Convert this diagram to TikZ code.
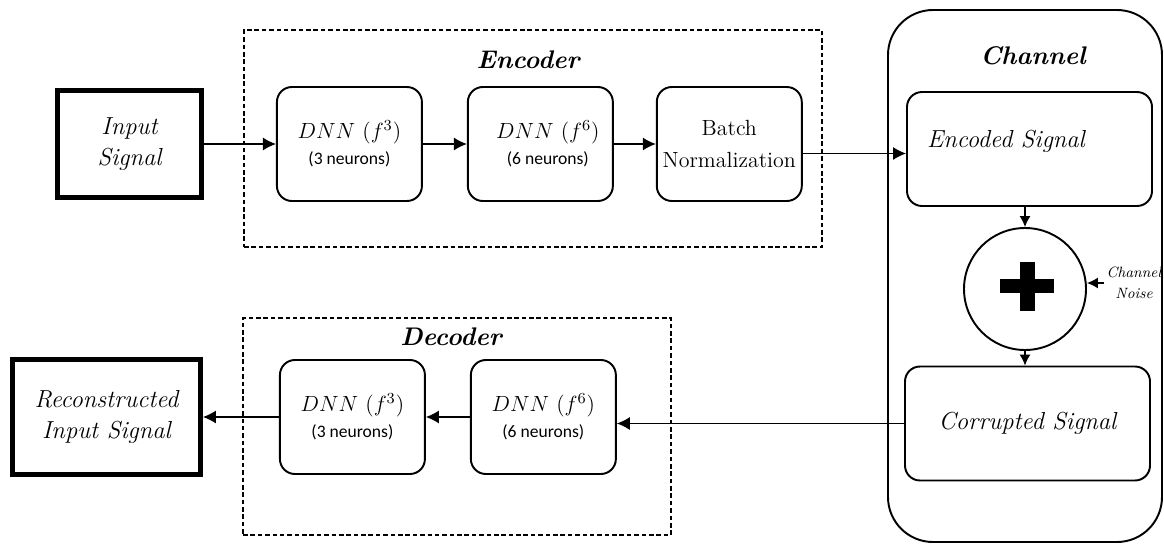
\RequirePackage{fix-cm}
\documentclass[tikz,border=0pt]{standalone}
\usepackage{fontspec}
\newfontfamily\neuronfont{Carlito}
\usetikzlibrary{arrows.meta,positioning}

\newcommand\sigfont{\fontsize{14}{17.5}\selectfont\itshape}
\newcommand\partfont{\fontsize{14.5}{17}\selectfont\bfseries\itshape}
\newcommand\dnnfont{\fontsize{12.5}{15}\selectfont}
\newcommand\neurfont{\fontsize{10}{12}\selectfont\neuronfont}
\newcommand\bnfont{\fontsize{12.5}{18}\selectfont\rmfamily\upshape}
\newcommand\noisefont{\fontsize{8.5}{12}\selectfont\itshape}

\begin{document}
\begin{tikzpicture}[
        node distance=0.88cm,
        iobox/.style={draw, line width=2.8pt, minimum width=2.88cm, minimum height=2.14cm, align=center, font=\sigfont},
        dnnbox/.style={draw, line width=1.1pt, rounded corners=0.3cm, minimum width=2.9cm, minimum height=2.28cm, align=center, font=\dnnfont},
        sigbox/.style={draw, line width=1.1pt, rounded corners=0.3cm, minimum width=4.9cm, minimum height=2.28cm, align=center, font=\sigfont},
        frame/.style={draw, line width=1pt, dash pattern=on 2.6pt off 1.6pt, inner sep=0pt},
        arrow/.style={-{Latex[length=2.6mm,width=2.6mm]}, line width=0.7pt},
        smallarrow/.style={-{Latex[length=2.2mm,width=2.2mm]}, line width=0.7pt}
    ]
    \useasboundingbox (0,0) rectangle (23.28,-10.88);

    % encoder
    \node[frame, minimum width=11.56cm, minimum height=4.34cm] (encframe) at (10.66,-2.77) {};
    \node[font=\partfont] (enclbl) at (10.56,-1.2) {Encoder};
    \node[iobox] (inp) at (2.59,-2.88) {Input\\Signal};
    \node[dnnbox, right=1.44cm of inp] (enc1) {$DNN\ (f^{3})$\\\neurfont (3 neurons)};
    \node[dnnbox, right=of enc1] (enc2) {\hspace{0.3cm}$DNN\ (f^{6})$\\\neurfont\hspace{0.3cm}(6 neurons)};
    \node[dnnbox, right=0.84cm of enc2, font=\bnfont] (bn) {Batch\\Normalization};

    % channel
    \node[draw, line width=1.1pt, rounded corners=0.9cm, minimum width=5.48cm, minimum height=10.64cm] (chan) at (20.5,-5.52) {};
    \node[font=\partfont] (chanlbl) at (20.66,-1.12) {Channel};
    \node[sigbox, label={[font=\sigfont, xshift=-0.47cm, yshift=0.16cm]center:Encoded Signal}] (encsig) at (20.59,-2.98) {};
    \node[draw, circle, line width=1.1pt, minimum size=2.44cm] (sum) at (20.5,-5.78) {};
    \fill[shift={(sum.center)}] (-0.5,-0.08) rectangle (0.58,0.2);
    \fill[shift={(sum.center)}] (-0.11,-0.43) rectangle (0.19,0.55);
    \node[font=\noisefont, align=center, inner sep=1pt] (noise) at (22.68,-5.66) {Channel\\Noise};
    \node[sigbox] (corr) at (20.55,-8.47) {Corrupted Signal};

    % decoder
    \node[frame, minimum width=8.56cm, minimum height=4.34cm] (decframe) at (9.14,-8.53) {};
    \node[font=\partfont] (declbl) at (9.02,-6.74) {Decoder};
    \node[iobox, minimum width=3.76cm, minimum height=2.3cm] (recon) at (2.13,-8.34) {Reconstructed\\Input Signal};
    \node[dnnbox, right=1.52cm of recon] (dec1) {$DNN\ (f^{3})$\\\neurfont (3 neurons)};
    \node[dnnbox, right=of dec1] (dec2) {$DNN\ (f^{6})$\\\neurfont (6 neurons)};

    \coordinate (bnout) at ([yshift=-0.19cm]bn.east);

    \draw[arrow] (inp) -- (enc1);
    \draw[arrow] (enc1) -- (enc2);
    \draw[arrow] (enc2) -- (bn);
    \draw[arrow] (bnout) -- (bnout -| encsig.west);
    \draw[smallarrow] (sum.north |- encsig.south) -- (sum.north);
    \draw[smallarrow] (noise.west) -- (noise.west -| sum.east);
    \draw[smallarrow] (sum.south) -- (sum.south |- corr.north);
    \draw[arrow] (corr.west) -- (corr.west -| dec2.east);
    \draw[arrow] (dec2) -- (dec1);
    \draw[arrow] (dec1) -- (recon);
\end{tikzpicture}
\end{document}
